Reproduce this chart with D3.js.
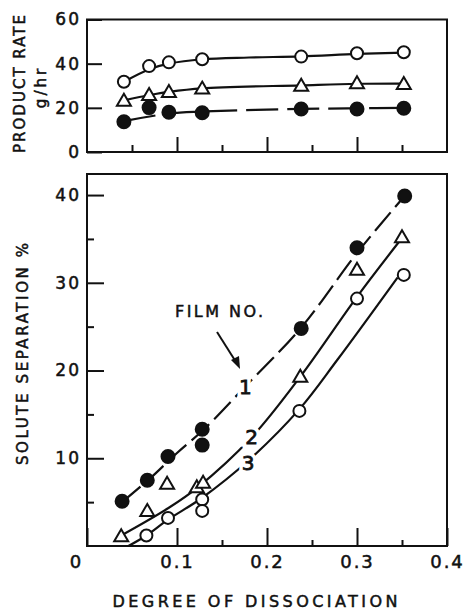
<!DOCTYPE html>
<html>
<head>
<meta charset="utf-8">
<script src="https://cdn.jsdelivr.net/npm/d3@7"></script>
<style>
  body { margin: 0; background: #fff; }
  svg { display: block; }
  text { font-family: "DejaVu Sans", sans-serif; fill: #111; stroke: #111; stroke-width: 0.5px; }
</style>
</head>
<body>
<div id="chart"></div>
<script>
// top panel: product rate (g/hr) vs degree of dissociation
const rateX = [0.041, 0.069, 0.091, 0.128, 0.238, 0.300, 0.352];
const rateOpen = [31.8, 38.9, 40.6, 42.0, 43.2, 44.7, 45.2];
const rateTri = [23.2, 25.8, 27.2, 28.7, 30.0, 31.1, 30.8];
const rateFilled = [13.7, 20.1, 18.0, 17.8, 19.5, 19.5, 19.8];

// hand-drawn lines through the top panel points
const rateOpenLine = [[0.041, 31.8], [0.07, 37.6], [0.091, 40.0], [0.128, 42.0], [0.18, 42.8], [0.238, 43.3], [0.30, 44.4], [0.352, 45.0]];
const rateTriLine = [[0.041, 23.4], [0.07, 25.8], [0.091, 27.2], [0.128, 28.8], [0.238, 30.2], [0.30, 30.9], [0.352, 31.0]];
const rateFilledLine = [[0.041, 14.0], [0.091, 17.4], [0.128, 18.3], [0.238, 19.5], [0.30, 19.8], [0.352, 20.0]];

// bottom panel: solute separation % for films 1, 2, 3
const film1X = [0.039, 0.067, 0.090, 0.128, 0.128, 0.238, 0.300, 0.353];
const film1Y = [5.1, 7.5, 10.2, 13.3, 11.5, 24.8, 34.0, 39.9];
const film2X = [0.038, 0.067, 0.089, 0.122, 0.129, 0.237, 0.300, 0.350];
const film2Y = [1.1, 4.0, 7.1, 6.7, 7.2, 19.3, 31.5, 35.2];
const film3X = [0.066, 0.090, 0.128, 0.128, 0.236, 0.300, 0.352];
const film3Y = [1.2, 3.2, 5.3, 4.0, 15.4, 28.2, 30.9];

const film1Line = [[0.039, 5.0], [0.07, 7.7], [0.10, 10.6], [0.13, 13.3], [0.176, 18.2], [0.238, 24.9], [0.30, 33.4], [0.353, 39.9]];
const film2Line = [[0.038, 1.2], [0.09, 4.3], [0.122, 6.6], [0.183, 12.4], [0.237, 19.3], [0.30, 28.4], [0.35, 35.1]];
const film3Line = [[0.046, 0.0], [0.066, 1.2], [0.09, 3.0], [0.128, 5.5], [0.18, 9.8], [0.236, 15.6], [0.278, 21.2], [0.345, 30.6]];

const xTicks = [0, 0.1, 0.2, 0.3, 0.4];
const xMinor = [0.05, 0.15, 0.25, 0.35];
const rateTicks = [0, 20, 40, 60];
const sepTicks = [10, 20, 30, 40];
const sepMinor = [5, 15, 25, 35];

const W = 464, H = 611;
const svg = d3.select("#chart").append("svg")
    .attr("width", W)
    .attr("height", H);
svg.append("rect").attr("width", W).attr("height", H).attr("fill", "#fff");

const x = d3.scaleLinear().domain([0, 0.4]).range([87, 447]);
const yTop = d3.scaleLinear().domain([0, 60]).range([152, 19.5]);
const yBot = d3.scaleLinear().domain([0, 42.4]).range([546, 174]);

const ink = "#111";

function frame(y) {
    svg.append("rect")
        .attr("x", x(0)).attr("y", y.range()[1])
        .attr("width", x(0.4) - x(0)).attr("height", y.range()[0] - y.range()[1])
        .attr("fill", "none").attr("stroke", ink).attr("stroke-width", 2);
}

function styleAxis(g) {
    g.select(".domain").remove();
    g.selectAll("line").attr("stroke", ink).attr("stroke-width", 2);
    g.selectAll("text").attr("fill", ink);
}

// ---- top panel
frame(yTop);
svg.append("g").attr("transform", `translate(${x(0)},0)`)
    .call(d3.axisLeft(yTop).tickValues(rateTicks).tickSize(-15).tickPadding(6))
    .call(styleAxis)
    .selectAll("text").style("font-size", "17px").style("letter-spacing", "2px");
svg.append("g").attr("transform", `translate(0,${yTop(0)})`)
    .call(d3.axisBottom(x).tickValues([0.1, 0.2, 0.3]).tickSize(-15).tickFormat(""))
    .call(styleAxis);
svg.append("g").attr("transform", `translate(0,${yTop(0)})`)
    .call(d3.axisBottom(x).tickValues(xMinor).tickSize(-7).tickFormat(""))
    .call(styleAxis);

// ---- bottom panel
frame(yBot);
svg.append("g").attr("transform", `translate(${x(0)},0)`)
    .call(d3.axisLeft(yBot).tickValues(sepTicks).tickSize(-17).tickPadding(6))
    .call(styleAxis)
    .selectAll("text").style("font-size", "17px").style("letter-spacing", "2px");
svg.append("g").attr("transform", `translate(${x(0)},0)`)
    .call(d3.axisLeft(yBot).tickValues(sepMinor).tickSize(-7).tickFormat(""))
    .call(styleAxis);
const xAx = svg.append("g").attr("transform", `translate(0,${yBot(0)})`)
    .call(d3.axisBottom(x).tickValues(xTicks).tickSize(-18).tickPadding(9)
        .tickFormat(d => d === 0 ? "0" : d3.format(".1f")(d)))
    .call(styleAxis);
xAx.selectAll("text").style("font-size", "18px").style("letter-spacing", "2px")
    .attr("dx", d => d === 0 ? -11 : 0);
svg.append("g").attr("transform", `translate(0,${yBot(0)})`)
    .call(d3.axisBottom(x).tickValues(xMinor.slice(1)).tickSize(-6).tickFormat(""))
    .call(styleAxis);

// ---- lines
function drawLine(pts, y, dash) {
    svg.append("path")
        .datum(pts)
        .attr("d", d3.line().x(d => x(d[0])).y(d => y(d[1])).curve(d3.curveCatmullRom.alpha(0.5)))
        .attr("fill", "none")
        .attr("stroke", ink)
        .attr("stroke-width", 2.2)
        .attr("stroke-dasharray", dash || null);
}
drawLine(rateOpenLine, yTop);
drawLine(rateTriLine, yTop);
drawLine(rateFilledLine, yTop, "32,9");
drawLine(film1Line, yBot, "24,7");
drawLine(film2Line, yBot);
drawLine(film3Line, yBot);

// ---- markers
const tri = "M0,-7L7,5L-7,5Z";
function circles(xs, ys, y, filled) {
    svg.append("g").selectAll("circle")
        .data(xs.map((d, i) => [d, ys[i]]))
        .join("circle")
        .attr("cx", d => x(d[0])).attr("cy", d => y(d[1]))
        .attr("r", filled ? 6.5 : 6)
        .attr("fill", filled ? ink : "#fff")
        .attr("stroke", ink).attr("stroke-width", 2);
}
function triangles(xs, ys, y) {
    svg.append("g").selectAll("path")
        .data(xs.map((d, i) => [d, ys[i]]))
        .join("path")
        .attr("d", tri)
        .attr("transform", d => `translate(${x(d[0])},${y(d[1])})`)
        .attr("fill", "#fff")
        .attr("stroke", ink).attr("stroke-width", 2);
}
circles(rateX, rateOpen, yTop, false);
triangles(rateX, rateTri, yTop);
circles(rateX, rateFilled, yTop, true);
circles(film1X, film1Y, yBot, true);
triangles(film2X, film2Y, yBot);
circles(film3X, film3Y, yBot, false);

// ---- film labels, cut into the lines (white halo underneath, ink on top)
const filmLabels = [["1", 0.176, 18.1], ["2", 0.183, 12.4], ["3", 0.179, 9.5]];
["halo", "ink"].forEach(layer => {
    svg.append("g").selectAll("text")
        .data(filmLabels)
        .join("text")
        .attr("x", d => x(d[1])).attr("y", d => yBot(d[2]))
        .attr("dy", "0.36em")
        .attr("text-anchor", "middle")
        .style("font-size", "20px")
        .style("stroke", layer === "halo" ? "#fff" : ink)
        .style("fill", layer === "halo" ? "#fff" : ink)
        .style("stroke-width", layer === "halo" ? "8px" : "0.8px")
        .text(d => d[0]);
});

svg.append("text")
    .attr("x", 175).attr("y", 317)
    .attr("textLength", 88).attr("lengthAdjust", "spacing")
    .style("font-size", "16px")
    .text("FILM NO.");

// arrow
svg.append("line")
    .attr("x1", 217).attr("y1", 332).attr("x2", 236).attr("y2", 362)
    .attr("stroke", ink).attr("stroke-width", 2);
svg.append("path")
    .attr("d", "M240,369L231,360L239,356Z")
    .attr("fill", ink);

// ---- axis titles
svg.append("text")
    .attr("transform", "translate(25,84) rotate(-90)")
    .attr("text-anchor", "middle")
    .attr("textLength", 138).attr("lengthAdjust", "spacing")
    .style("font-size", "15px")
    .text("PRODUCT RATE");
svg.append("text")
    .attr("transform", "translate(46,87) rotate(-90)")
    .attr("text-anchor", "middle")
    .style("font-size", "15px").style("letter-spacing", "3px")
    .text("g/hr");
svg.append("text")
    .attr("transform", "translate(28,354) rotate(-90)")
    .attr("text-anchor", "middle")
    .attr("textLength", 222).attr("lengthAdjust", "spacing")
    .style("font-size", "15px")
    .text("SOLUTE SEPARATION %");
svg.append("text")
    .attr("x", 255).attr("y", 607)
    .attr("text-anchor", "middle")
    .attr("textLength", 285).attr("lengthAdjust", "spacing")
    .style("font-size", "16px")
    .text("DEGREE OF DISSOCIATION");
</script>
</body>
</html>
